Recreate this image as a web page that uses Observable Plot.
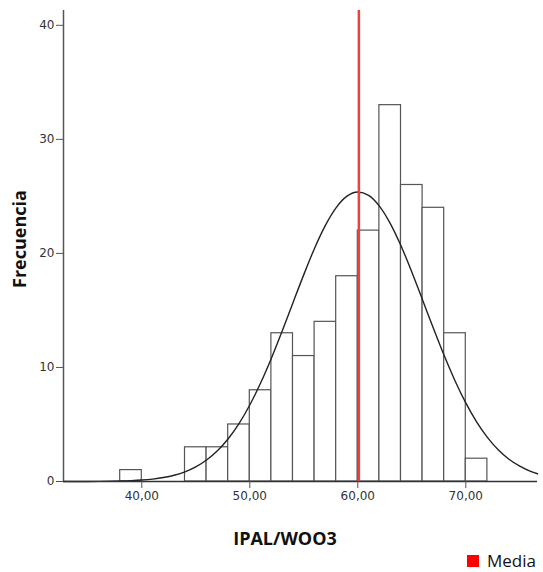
<!DOCTYPE html>
<html>
<head>
<meta charset="utf-8">
<script src="https://cdn.jsdelivr.net/npm/d3@7"></script>
<script src="https://cdn.jsdelivr.net/npm/@observablehq/plot@0.6"></script>
<style>
  html, body { margin: 0; padding: 0; background: #fff; }
  #wrap { position: relative; width: 543px; height: 572px; overflow: hidden; }
  #chart { position: absolute; left: 0; top: 0; }
  .lbl { position: absolute; font-family: "Open Sans", sans-serif; color: #111; white-space: nowrap; }
  #xlab { left: 285px; top: 538px; transform: translate(-50%, -50%); font-weight: 700; font-size: 18px; }
  #ylab { left: 18.5px; top: 239px; transform: translate(-50%, -50%) rotate(-90deg); font-weight: 700; font-size: 18px; }
  #legend { left: 467px; top: 551px; font-size: 17px; line-height: 20px; display: flex; align-items: center; }
  #legend .sw { width: 12px; height: 12px; background: #ff0000; margin-right: 8px; flex: none; }
</style>
</head>
<body>
<div id="wrap">
  <div id="chart"></div>
  <div class="lbl" id="xlab">IPAL/WOO3</div>
  <div class="lbl" id="ylab">Frecuencia</div>
  <div class="lbl" id="legend"><span class="sw"></span><span>Media</span></div>
</div>
<script>
// Histogram bins (start of each 2-unit bin) and frequencies
const binStarts = [38, 44, 46, 48, 50, 52, 54, 56, 58, 60, 62, 64, 66, 68, 70];
const binWidth = 2;
const counts    = [1, 3, 3, 5, 8, 13, 11, 14, 18, 22, 33, 26, 24, 13, 2];

// Fitted normal curve
const curveX = [32.75, 33, 34, 35, 36, 37, 38, 39, 40, 41, 42, 43, 44, 45, 46, 47, 48, 49, 50, 51, 52, 53, 54, 55, 56, 57, 58, 59, 60, 61, 62, 63, 64, 65, 66, 67, 68, 69, 70, 71, 72, 73, 74, 75, 76, 76.64];
const curveY = [0.0015, 0.0017, 0.0033, 0.0065, 0.0125, 0.023, 0.042, 0.074, 0.127, 0.213, 0.346, 0.551, 0.851, 1.28, 1.88, 2.69, 3.75, 5.08, 6.71, 8.63, 10.81, 13.19, 15.68, 18.14, 20.46, 22.46, 24.02, 25.02, 25.39, 25.09, 24.15, 22.64, 20.67, 18.38, 15.92, 13.43, 11.04, 8.84, 6.89, 5.23, 3.87, 2.78, 1.95, 1.34, 0.89, 0.68];

const meanValue = 60.1;
const xTicks = [40, 50, 60, 70];
const yTicks = [0, 10, 20, 30, 40];
const xDomain = [32.75, 76.64];
const yDomain = [0, 41.3];

const bars = binStarts.map((s, i) => ({x1: s, x2: s + binWidth, y: counts[i]}));
const curve = curveX.map((x, i) => ({x, y: curveY[i]}));

const chart = Plot.plot({
  width: 543,
  height: 572,
  marginLeft: 63,
  marginRight: 6,
  marginTop: 10,
  marginBottom: 91,
  style: {fontFamily: "'DejaVu Sans', sans-serif", fontSize: "12px", color: "#333", background: "white"},
  x: {domain: xDomain},
  y: {domain: yDomain},
  marks: [
    Plot.rectY(bars, {x1: "x1", x2: "x2", y: "y", fill: "white", stroke: "#555", strokeWidth: 1.2}),
    Plot.lineY(curve, {x: "x", y: "y", stroke: "#222", strokeWidth: 1.4, curve: "monotone-x"}),
    Plot.ruleX([xDomain[0]], {stroke: "#555", strokeWidth: 1.5}),
    Plot.ruleY([0], {stroke: "#333", strokeWidth: 1.5}),
    Plot.ruleX([meanValue], {stroke: "#ef4040", strokeWidth: 2.5}),
    Plot.axisX({ticks: xTicks, tickFormat: d => d.toFixed(2).replace(".", ","), tickSize: 7, tickPadding: 3, label: null, stroke: "#555"}),
    Plot.axisY({ticks: yTicks, tickSize: 7, tickPadding: 2, label: null, stroke: "#555"})
  ]
});
document.getElementById("chart").appendChild(chart);
</script>
</body>
</html>
